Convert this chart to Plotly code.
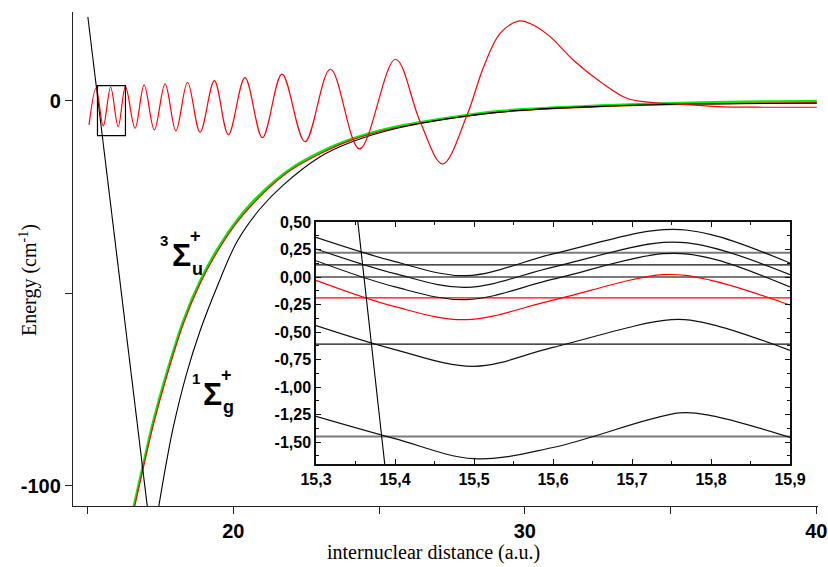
import plotly.graph_objects as go

# ---------------- main panel data ----------------
wall_x = [15.01, 17.06]
wall_y = [21.8, -106.0]

psi_x = [15.05, 15.29, 15.54, 15.79, 16.05, 16.30, 16.63, 16.94, 17.29, 17.66,
         18.03, 18.43, 18.86, 19.35, 19.83, 20.40, 21.00, 21.67, 22.46, 23.33,
         24.33, 25.56, 26.41, 27.18, 28.02, 28.59, 29.16, 29.81, 30.29, 30.87,
         31.66, 32.59, 33.50, 34.41, 35.22, 36.59, 38.31, 40.02]
psi_y = [-6.23, 3.30, -6.49, 3.56, -6.68, 3.71, -7.09, 4.16, -7.53, 4.42,
         -7.79, 4.86, -8.13, 5.27, -8.75, 6.05, -9.53, 6.94, -10.57, 8.23,
         -12.47, 10.83, -5.4, -16.36, -3.64, 8.9, 17.6, 20.78, 19.74, 16.70,
         10.65, 5.01, 0.70, -0.44, -0.78, -1.48, -1.64, -1.64]

trip_x = [16.58, 16.92, 17.26, 17.72, 18.29, 18.87, 19.44, 20.13, 20.70, 21.38,
          22.07, 22.98, 24.01, 25.50, 27.79, 29.16, 32.59, 36.02, 40.02]
trip_green_y = [-105.4, -94.0, -83.0, -70.5, -57.0, -46.6, -38.6, -30.9, -25.9, -21.0,
                -17.1, -13.3, -10.0, -6.8, -3.9, -2.6, -1.2, -0.4, 0.0]
trip_red_y = [-106.5, -95.0, -84.0, -71.4, -57.8, -47.3, -39.3, -31.5, -26.5, -21.5,
              -17.5, -13.7, -10.3, -7.1, -4.2, -2.9, -1.5, -0.8, -0.45]

sing_x = [17.44, 17.72, 17.95, 18.39, 18.87, 19.44, 20.13, 20.92, 21.72, 22.98,
          24.01, 25.73, 29.16, 32.59, 36.02, 40.02]
sing_y = [-105.4, -93.2, -84.4, -71.0, -59.5, -48.3, -36.5, -28.0, -21.8, -14.5,
          -10.8, -6.9, -2.9, -1.4, -0.8, -0.6]

box_x = [15.34, 16.30]
box_y = [-9.01, 3.97]

main_xticks = [15, 20, 25, 30, 35, 40]
main_xlabels = ["", "20", "", "30", "", "40"]
main_yticks = [-100, -50, 0]
main_ylabels = ["-100", "", "0"]

# ---------------- inset data ----------------
in_x = [15.30, 15.40, 15.49, 15.60, 15.74, 15.80, 15.90]
curve_a = [0.36, 0.14, 0.012, 0.21, 0.43, 0.385, 0.127]
curve_b = [0.255, 0.03, -0.094, 0.09, 0.315, 0.27, 0.021]
curve_c = [0.148, -0.09, -0.206, -0.02, 0.212, 0.17, -0.091]
curve_red = [-0.03, -0.27, -0.388, -0.21, 0.021, -0.03, -0.255]
curve_d_x = [15.30, 15.40, 15.50, 15.60, 15.75, 15.80, 15.90]
curve_d = [-0.442, -0.66, -0.812, -0.64, -0.388, -0.43, -0.667]
curve_e_x = [15.30, 15.40, 15.50, 15.60, 15.76, 15.80, 15.90]
curve_e = [-1.267, -1.47, -1.652, -1.55, -1.236, -1.26, -1.458]

levels_gray = [0.22, 0.00, -1.45]
levels_black = [0.11, -0.61]
level_red = -0.19

in_wall_x = [15.353, 15.387]
in_wall_y = [0.5, -1.70]

in_xticks = [15.3, 15.4, 15.5, 15.6, 15.7, 15.8, 15.9]
in_xlabels = ["15,3", "15,4", "15,5", "15,6", "15,7", "15,8", "15,9"]
in_xminor = [15.35, 15.45, 15.55, 15.65, 15.75, 15.85]
in_yticks = [0.5, 0.25, 0.0, -0.25, -0.5, -0.75, -1.0, -1.25, -1.5]
in_ylabels = ["0,50", "0,25", "0,00", "-0,25", "-0,50", "-0,75", "-1,00", "-1,25", "-1,50"]
in_yminor = [0.375, 0.125, -0.125, -0.375, -0.625, -0.875, -1.125, -1.375, -1.625]

# ---------------- figure ----------------
W, H = 828, 567
L, R, T, B = 73, 10, 12, 61
PW, PH = W - L - R, H - T - B


def pxx(px):
    return (px - L) / PW


def pxy(py):
    return (H - B - py) / PH


fig = go.Figure()

# main panel
fig.add_trace(go.Scatter(x=trip_x, y=trip_green_y, mode="lines", line=dict(color="#00ee00", width=2.4, shape="spline")))
fig.add_trace(go.Scatter(x=trip_x, y=trip_red_y, mode="lines", line=dict(color="#ff0000", width=1.2, shape="spline")))
fig.add_trace(go.Scatter(x=sing_x, y=sing_y, mode="lines", line=dict(color="#000000", width=1.1, shape="spline")))
fig.add_trace(go.Scatter(x=wall_x, y=wall_y, mode="lines", line=dict(color="#000000", width=1.1)))
fig.add_trace(go.Scatter(x=psi_x, y=psi_y, mode="lines", line=dict(color="#ff0000", width=1.2, shape="spline", smoothing=1.0)))

fig.add_shape(type="rect", xref="x", yref="y", x0=box_x[0], x1=box_x[1], y0=box_y[0], y1=box_y[1],
              line=dict(color="#000000", width=1.2))

# inset
for lv in levels_gray:
    fig.add_trace(go.Scatter(x=[in_xticks[0], in_xticks[-1]], y=[lv, lv], mode="lines",
                             line=dict(color="#7a7a7a", width=2), xaxis="x2", yaxis="y2"))
for lv in levels_black:
    fig.add_trace(go.Scatter(x=[in_xticks[0], in_xticks[-1]], y=[lv, lv], mode="lines",
                             line=dict(color="#111111", width=1.2), xaxis="x2", yaxis="y2"))
fig.add_trace(go.Scatter(x=[in_xticks[0], in_xticks[-1]], y=[level_red, level_red], mode="lines",
                         line=dict(color="#ff0000", width=1.3), xaxis="x2", yaxis="y2"))

for cx, cy, col in [(in_x, curve_a, "#111111"), (in_x, curve_b, "#111111"), (in_x, curve_c, "#111111"),
                    (in_x, curve_red, "#ff0000"), (curve_d_x, curve_d, "#111111"),
                    (curve_e_x, curve_e, "#111111")]:
    fig.add_trace(go.Scatter(x=cx, y=cy, mode="lines", line=dict(color=col, width=1.2, shape="spline"),
                             xaxis="x2", yaxis="y2"))
fig.add_trace(go.Scatter(x=in_wall_x, y=in_wall_y, mode="lines", line=dict(color="#000000", width=1.1),
                         xaxis="x2", yaxis="y2"))

tickfont_main = dict(family="Liberation Sans, Arial, sans-serif", size=20, color="#000000", weight="bold")
tickfont_in = dict(family="Liberation Sans, Arial, sans-serif", size=16, color="#000000", weight="bold")

fig.update_layout(
    width=W, height=H,
    margin=dict(l=L, r=R, t=T, b=B, autoexpand=False),
    paper_bgcolor="white", plot_bgcolor="white",
    showlegend=False,
    xaxis=dict(range=[14.5, 40.06], showgrid=False, zeroline=False, showline=True, automargin=False,
               linecolor="#222222", linewidth=1.4, ticks="outside", ticklen=7, tickwidth=1.2,
               tickcolor="#222222", tickmode="array", tickvals=main_xticks, ticktext=main_xlabels,
               tickfont=tickfont_main),
    yaxis=dict(range=[-105.2, 23.1], showgrid=False, zeroline=False, showline=True, automargin=False,
               linecolor="#222222", linewidth=1.4, ticks="outside", ticklen=7, tickwidth=1.2,
               tickcolor="#222222", tickmode="array", tickvals=main_yticks, ticktext=main_ylabels,
               tickfont=tickfont_main),
    xaxis2=dict(domain=[pxx(316), pxx(790)], anchor="y2", range=[15.3, 15.9], showgrid=False,
                zeroline=False, showline=True, mirror="ticks", linecolor="#111111", linewidth=1.5,
                automargin=False,
                ticks="inside", ticklen=5, tickwidth=1, tickcolor="#111111", tickmode="array",
                tickvals=in_xticks, ticktext=in_xlabels, tickfont=tickfont_in,
                minor=dict(tickvals=in_xminor, ticks="inside", ticklen=3, tickcolor="#111111")),
    yaxis2=dict(domain=[pxy(464), pxy(222)], anchor="x2", range=[-1.7, 0.5], showgrid=False,
                zeroline=False, showline=True, mirror="ticks", linecolor="#111111", linewidth=1.5,
                automargin=False,
                ticks="inside", ticklen=5, tickwidth=1, tickcolor="#111111", tickmode="array",
                tickvals=in_yticks, ticktext=in_ylabels, tickfont=tickfont_in,
                minor=dict(tickvals=in_yminor, ticks="inside", ticklen=3, tickcolor="#111111")),
)

serif = "Liberation Serif, Times New Roman, serif"
sans = "Liberation Sans, Arial, sans-serif"
ann = [
    dict(text="Energy (cm<sup>-1</sup>)", x=pxx(28), y=pxy(280), textangle=-90,
         font=dict(family=serif, size=20, color="#000000")),
    dict(text="internuclear distance (a.u.)", x=pxx(433), y=pxy(552),
         font=dict(family=serif, size=20, color="#000000")),
    dict(text="3", x=pxx(163.5), y=pxy(240), font=dict(family=sans, size=15, color="#000000", weight="bold")),
    dict(text="Σ", x=pxx(181), y=pxy(255), font=dict(family=sans, size=32, color="#000000", weight="bold")),
    dict(text="u", x=pxx(197), y=pxy(269), font=dict(family=sans, size=18, color="#000000", weight="bold")),
    dict(text="+", x=pxx(195), y=pxy(236), font=dict(family=sans, size=18, color="#000000", weight="bold")),
    dict(text="1", x=pxx(195.5), y=pxy(378), font=dict(family=sans, size=15, color="#000000", weight="bold")),
    dict(text="Σ", x=pxx(212), y=pxy(394), font=dict(family=sans, size=32, color="#000000", weight="bold")),
    dict(text="g", x=pxx(228), y=pxy(407), font=dict(family=sans, size=18, color="#000000", weight="bold")),
    dict(text="+", x=pxx(226), y=pxy(375), font=dict(family=sans, size=18, color="#000000", weight="bold")),
]
for a in ann:
    a.update(xref="paper", yref="paper", showarrow=False, xanchor="center", yanchor="middle")
fig.update_layout(annotations=ann)

fig.write_html("out.html", config={"displayModeBar": False},
               post_script="document.body.style.margin='0px';document.body.style.overflow='hidden';")
